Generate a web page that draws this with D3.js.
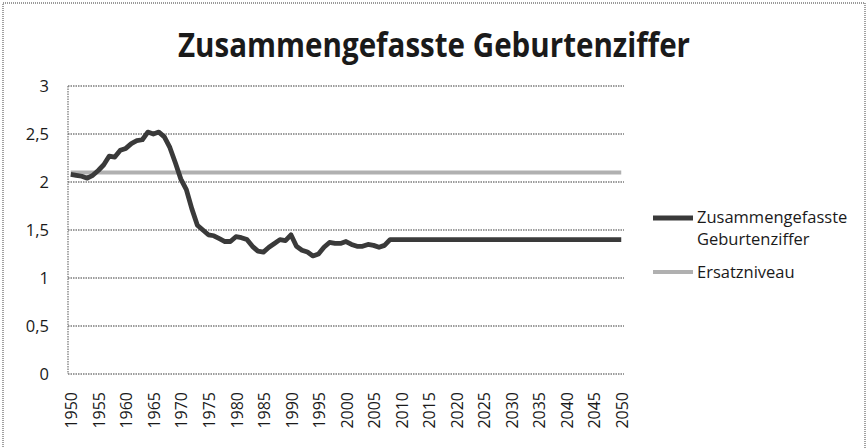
<!DOCTYPE html>
<html>
<head>
<meta charset="utf-8">
<title>Zusammengefasste Geburtenziffer</title>
<script src="https://cdn.jsdelivr.net/npm/d3@7/dist/d3.min.js"></script>
<style>
  body { margin: 0; background: #fff; }
  text { font-family: "Open Sans", "DejaVu Sans", sans-serif; fill: #1a1a1a; }
</style>
</head>
<body>
<div id="chart"></div>
<script>
// Jahre (Kategorien)
const years = [
  1950, 1951, 1952, 1953, 1954, 1955, 1956, 1957, 1958, 1959,
  1960, 1961, 1962, 1963, 1964, 1965, 1966, 1967, 1968, 1969,
  1970, 1971, 1972, 1973, 1974, 1975, 1976, 1977, 1978, 1979,
  1980, 1981, 1982, 1983, 1984, 1985, 1986, 1987, 1988, 1989,
  1990, 1991, 1992, 1993, 1994, 1995, 1996, 1997, 1998, 1999,
  2000, 2001, 2002, 2003, 2004, 2005, 2006, 2007, 2008, 2009,
  2010, 2011, 2012, 2013, 2014, 2015, 2016, 2017, 2018, 2019,
  2020, 2021, 2022, 2023, 2024, 2025, 2026, 2027, 2028, 2029,
  2030, 2031, 2032, 2033, 2034, 2035, 2036, 2037, 2038, 2039,
  2040, 2041, 2042, 2043, 2044, 2045, 2046, 2047, 2048, 2049,
  2050
];

// Zusammengefasste Geburtenziffer
const geburtenziffer = [
  2.08, 2.07, 2.06, 2.04, 2.07, 2.12, 2.18, 2.27, 2.26, 2.33,
  2.35, 2.40, 2.43, 2.44, 2.52, 2.50, 2.52, 2.47, 2.36, 2.20,
  2.03, 1.92, 1.72, 1.55, 1.50, 1.45, 1.44, 1.41, 1.38, 1.38,
  1.43, 1.42, 1.40, 1.33, 1.28, 1.27, 1.32, 1.36, 1.40, 1.39,
  1.45, 1.33, 1.29, 1.27, 1.23, 1.25, 1.32, 1.37, 1.36, 1.36,
  1.38, 1.35, 1.33, 1.33, 1.35, 1.34, 1.32, 1.34, 1.40, 1.40,
  1.40, 1.40, 1.40, 1.40, 1.40, 1.40, 1.40, 1.40, 1.40, 1.40,
  1.40, 1.40, 1.40, 1.40, 1.40, 1.40, 1.40, 1.40, 1.40, 1.40,
  1.40, 1.40, 1.40, 1.40, 1.40, 1.40, 1.40, 1.40, 1.40, 1.40,
  1.40, 1.40, 1.40, 1.40, 1.40, 1.40, 1.40, 1.40, 1.40, 1.40,
  1.40
];

// Ersatzniveau
const ersatzniveau = [
  2.1, 2.1, 2.1, 2.1, 2.1, 2.1, 2.1, 2.1, 2.1, 2.1,
  2.1, 2.1, 2.1, 2.1, 2.1, 2.1, 2.1, 2.1, 2.1, 2.1,
  2.1, 2.1, 2.1, 2.1, 2.1, 2.1, 2.1, 2.1, 2.1, 2.1,
  2.1, 2.1, 2.1, 2.1, 2.1, 2.1, 2.1, 2.1, 2.1, 2.1,
  2.1, 2.1, 2.1, 2.1, 2.1, 2.1, 2.1, 2.1, 2.1, 2.1,
  2.1, 2.1, 2.1, 2.1, 2.1, 2.1, 2.1, 2.1, 2.1, 2.1,
  2.1, 2.1, 2.1, 2.1, 2.1, 2.1, 2.1, 2.1, 2.1, 2.1,
  2.1, 2.1, 2.1, 2.1, 2.1, 2.1, 2.1, 2.1, 2.1, 2.1,
  2.1, 2.1, 2.1, 2.1, 2.1, 2.1, 2.1, 2.1, 2.1, 2.1,
  2.1, 2.1, 2.1, 2.1, 2.1, 2.1, 2.1, 2.1, 2.1, 2.1,
  2.1
];

const xTickLabels = [1950, 1955, 1960, 1965, 1970, 1975, 1980, 1985, 1990, 1995,
  2000, 2005, 2010, 2015, 2020, 2025, 2030, 2035, 2040, 2045, 2050];
const yTicks = [0, 0.5, 1, 1.5, 2, 2.5, 3];
const yTickLabels = ["0", "0,5", "1", "1,5", "2", "2,5", "3"];
const seriesNames = ["Zusammengefasste Geburtenziffer", "Ersatzniveau"];

const width = 867, height = 448;
const plot = { left: 68, right: 624, top: 86, bottom: 374 };

const svg = d3.select("#chart").append("svg")
  .attr("width", width)
  .attr("height", height);

// Rahmen
svg.append("rect")
  .attr("x", 3).attr("y", 3)
  .attr("width", width - 5).attr("height", height - 2)
  .attr("fill", "#fff")
  .attr("stroke", "#7a7a7a")
  .attr("stroke-width", 1.4)
  .attr("stroke-dasharray", "1,1");

const x = d3.scalePoint()
  .domain(years)
  .range([plot.left, plot.right])
  .padding(0.5);

const y = d3.scaleLinear()
  .domain([0, 3])
  .range([plot.bottom, plot.top]);

// Titel
svg.append("text")
  .attr("x", 434)
  .attr("y", 57)
  .attr("text-anchor", "middle")
  .attr("font-size", 34)
  .attr("font-weight", "bold")
  .attr("textLength", 512)
  .attr("lengthAdjust", "spacingAndGlyphs")
  .text("Zusammengefasste Geburtenziffer");

// Gitterlinien
svg.append("g")
  .selectAll("line")
  .data(yTicks)
  .join("line")
  .attr("x1", plot.left).attr("x2", plot.right)
  .attr("y1", d => y(d)).attr("y2", d => y(d))
  .attr("stroke", "#7c7c7c")
  .attr("stroke-width", 1.3)
  .attr("stroke-dasharray", "1.5,1");

// Y-Achsenlinie
svg.append("line")
  .attr("x1", plot.left).attr("x2", plot.left)
  .attr("y1", plot.top).attr("y2", plot.bottom)
  .attr("stroke", "#7c7c7c")
  .attr("stroke-width", 1.3)
  .attr("stroke-dasharray", "1.5,1");

// Y-Beschriftung
svg.append("g")
  .selectAll("text")
  .data(yTicks)
  .join("text")
  .attr("x", 49)
  .attr("y", d => y(d))
  .attr("dy", "0.35em")
  .attr("text-anchor", "end")
  .attr("font-size", 16.5)
  .text((d, i) => yTickLabels[i]);

// X-Beschriftung
svg.append("g")
  .selectAll("text")
  .data(xTickLabels)
  .join("text")
  .attr("transform", d => `translate(${x(d) + 1},392) rotate(-90)`)
  .attr("dy", "0.35em")
  .attr("text-anchor", "end")
  .attr("font-size", 16)
  .text(d => d);

const line = d3.line()
  .x(d => x(d.year))
  .y(d => y(d.value));

// Ersatzniveau
svg.append("path")
  .datum(years.map((yr, i) => ({ year: yr, value: ersatzniveau[i] })))
  .attr("d", line)
  .attr("fill", "none")
  .attr("stroke", "#b0b0b0")
  .attr("stroke-width", 4);

// Geburtenziffer
svg.append("path")
  .datum(years.map((yr, i) => ({ year: yr, value: geburtenziffer[i] })))
  .attr("d", line)
  .attr("fill", "none")
  .attr("stroke", "#3a3a3a")
  .attr("stroke-width", 4.8)
  .attr("stroke-linejoin", "round");

// Legende
const legend = svg.append("g");
legend.append("line")
  .attr("x1", 653).attr("x2", 693).attr("y1", 218).attr("y2", 218)
  .attr("stroke", "#3a3a3a").attr("stroke-width", 4.8);
legend.append("text")
  .attr("x", 697).attr("y", 223)
  .attr("font-size", 16.5)
  .text(seriesNames[0].split(" ")[0]);
legend.append("text")
  .attr("x", 697).attr("y", 245)
  .attr("font-size", 16.5)
  .text(seriesNames[0].split(" ")[1]);
legend.append("line")
  .attr("x1", 653).attr("x2", 693).attr("y1", 272).attr("y2", 272)
  .attr("stroke", "#b0b0b0").attr("stroke-width", 4);
legend.append("text")
  .attr("x", 697).attr("y", 278)
  .attr("font-size", 16.5)
  .text(seriesNames[1]);
</script>
</body>
</html>
